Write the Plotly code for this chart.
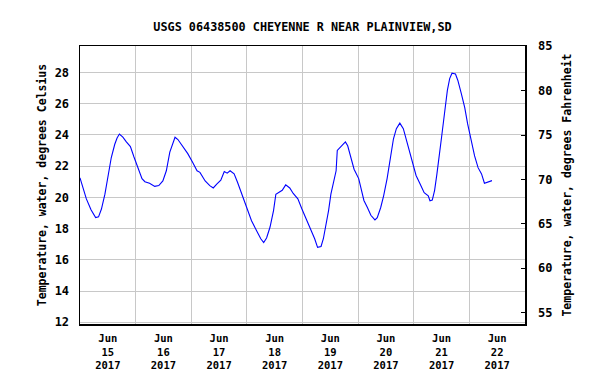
import plotly.graph_objects as go

title_text = "USGS 06438500 CHEYENNE R NEAR PLAINVIEW,SD"
left_title = "Temperature, water, degrees Celsius"
right_title = "Temperature, water, degrees Fahrenheit"

times = [
    "2017-06-15 00:00", "2017-06-15 01:15", "2017-06-15 02:45", "2017-06-15 04:45",
    "2017-06-15 06:45", "2017-06-15 08:00", "2017-06-15 09:15", "2017-06-15 10:45",
    "2017-06-15 12:00", "2017-06-15 13:30", "2017-06-15 15:00", "2017-06-15 16:00",
    "2017-06-15 17:00", "2017-06-15 18:30", "2017-06-15 20:00", "2017-06-15 21:45",
    "2017-06-15 23:15",
    "2017-06-16 01:00", "2017-06-16 02:45", "2017-06-16 04:00", "2017-06-16 06:00",
    "2017-06-16 08:15", "2017-06-16 10:00", "2017-06-16 11:45", "2017-06-16 13:15",
    "2017-06-16 14:45", "2017-06-16 16:00", "2017-06-16 17:00", "2017-06-16 18:15",
    "2017-06-16 20:30", "2017-06-16 22:30",
    "2017-06-17 00:45", "2017-06-17 02:30", "2017-06-17 03:45", "2017-06-17 06:00",
    "2017-06-17 08:00", "2017-06-17 09:30", "2017-06-17 11:00", "2017-06-17 12:45",
    "2017-06-17 14:15", "2017-06-17 15:30", "2017-06-17 16:45", "2017-06-17 18:30",
    "2017-06-17 20:00", "2017-06-17 21:45",
    "2017-06-18 00:00", "2017-06-18 02:00", "2017-06-18 04:15", "2017-06-18 06:00",
    "2017-06-18 07:15", "2017-06-18 08:30", "2017-06-18 10:00", "2017-06-18 11:30",
    "2017-06-18 12:30", "2017-06-18 13:30", "2017-06-18 15:15", "2017-06-18 16:45",
    "2017-06-18 18:30", "2017-06-18 20:00", "2017-06-18 22:00", "2017-06-18 23:45",
    "2017-06-19 01:45", "2017-06-19 03:45", "2017-06-19 05:15", "2017-06-19 06:30",
    "2017-06-19 08:00", "2017-06-19 09:00", "2017-06-19 10:15", "2017-06-19 11:15",
    "2017-06-19 12:15", "2017-06-19 13:15", "2017-06-19 14:30", "2017-06-19 15:00",
    "2017-06-19 16:15", "2017-06-19 17:45", "2017-06-19 18:30", "2017-06-19 19:30",
    "2017-06-19 20:45", "2017-06-19 22:15",
    "2017-06-20 00:15", "2017-06-20 01:30", "2017-06-20 02:30", "2017-06-20 04:00",
    "2017-06-20 05:30", "2017-06-20 07:15", "2017-06-20 08:15", "2017-06-20 09:45",
    "2017-06-20 11:00", "2017-06-20 12:30", "2017-06-20 13:45", "2017-06-20 15:15",
    "2017-06-20 16:30", "2017-06-20 17:30", "2017-06-20 18:00", "2017-06-20 19:30",
    "2017-06-20 21:15", "2017-06-20 23:15",
    "2017-06-21 01:00", "2017-06-21 02:45", "2017-06-21 04:30", "2017-06-21 06:15",
    "2017-06-21 07:00", "2017-06-21 08:00", "2017-06-21 09:00", "2017-06-21 10:00",
    "2017-06-21 11:00", "2017-06-21 12:00", "2017-06-21 13:15", "2017-06-21 14:30",
    "2017-06-21 15:30", "2017-06-21 16:30", "2017-06-21 18:00", "2017-06-21 19:00",
    "2017-06-21 20:30", "2017-06-21 22:00", "2017-06-21 23:15",
    "2017-06-22 00:45", "2017-06-22 02:15", "2017-06-22 03:45", "2017-06-22 05:15",
    "2017-06-22 06:30", "2017-06-22 07:30", "2017-06-22 09:45",
]

temps_c = [
    21.25, 20.65, 19.9, 19.2, 18.7, 18.75, 19.25, 20.2,
    21.2, 22.55, 23.4, 23.8, 24.05, 23.85, 23.55, 23.25,
    22.6,
    21.9, 21.2, 21.0, 20.9, 20.7, 20.75, 21.05, 21.7,
    22.9, 23.4, 23.85, 23.7, 23.25, 22.8,
    22.2, 21.7, 21.6, 21.05, 20.75, 20.6, 20.85, 21.1,
    21.65, 21.55, 21.7, 21.5, 20.95, 20.2,
    19.25, 18.5, 17.85, 17.35, 17.1, 17.4, 18.1, 19.15,
    20.2, 20.3, 20.45, 20.8, 20.6, 20.25, 19.9, 19.25,
    18.6, 17.9, 17.35, 16.8, 16.85, 17.35, 18.3, 19.15,
    20.2, 20.85, 21.7, 23.0, 23.2, 23.45, 23.55, 23.3,
    22.65, 21.8,
    21.2, 20.45, 19.8, 19.35, 18.85, 18.55, 18.7, 19.35,
    20.1, 21.2, 22.35, 23.75, 24.4, 24.7, 24.75, 24.4,
    23.4, 22.25,
    21.4, 20.85, 20.3, 20.1, 19.78, 19.82, 20.45, 21.5,
    22.55, 23.85, 25.35, 26.85, 27.6, 27.95, 27.9, 27.5,
    26.65, 25.75, 24.7,
    23.65, 22.65, 21.9, 21.5, 20.9, 20.95, 21.07,
]

x_range = ["2017-06-15 00:00", "2017-06-23 00:00"]
c_range = [11.89, 29.69]
f_range = [53.73, 85.02]

font_family = "DejaVu Sans Mono"

fig = go.Figure()
fig.add_trace(go.Scatter(
    x=times, y=temps_c, mode="lines",
    line=dict(color="#0000FF", width=1.1, shape="linear"),
    showlegend=False, hoverinfo="skip",
))
# invisible trace to activate the Fahrenheit axis
fig.add_trace(go.Scatter(
    x=[times[0]], y=[temps_c[0] * 1.8 + 32], yaxis="y2", mode="markers",
    marker=dict(opacity=0), showlegend=False, hoverinfo="skip",
))

fig.update_layout(
    width=597, height=375,
    margin=dict(l=80, r=72, t=46, b=51, autoexpand=False),
    paper_bgcolor="white", plot_bgcolor="white",
    font=dict(family=font_family, size=12, color="black", weight="bold"),
    title=dict(
        text=title_text, x=0.5, xref="paper", xanchor="center",
        y=1 - 26.7 / 375, yref="container", yanchor="middle",
        font=dict(family=font_family, size=11.8, color="black", weight="bold"),
    ),
    xaxis=dict(
        type="date", range=x_range, automargin=False,
        tick0="2017-06-15", dtick=86400000,
        ticklabelmode="period", tickformat="%b<br>%d<br>%Y",
        showgrid=True, gridcolor="#C8C8C8", gridwidth=1,
        showline=True, linecolor="black", linewidth=1.5, mirror=True,
        ticks="", ticklabelstandoff=4,
        tickfont=dict(size=10.5),
        zeroline=False,
    ),
    yaxis=dict(
        range=c_range, tick0=12, dtick=2, automargin=False,
        showgrid=True, gridcolor="#C8C8C8", gridwidth=1,
        showline=True, linecolor="black", linewidth=1.5, mirror=True,
        ticks="", ticklabelstandoff=7,
        title=dict(text=left_title, standoff=5,
                   font=dict(size=11.5)),
        zeroline=False,
    ),
    yaxis2=dict(
        range=f_range, tick0=55, dtick=5, overlaying="y", side="right",
        automargin=False,
        showgrid=False, zeroline=False,
        ticks="inside", ticklen=4, tickcolor="black", tickwidth=1,
        ticklabelstandoff=12,
        title=dict(text=right_title, standoff=11,
                   font=dict(size=11.5)),
    ),
)

fig.write_html(
    "out.html",
    config={"displayModeBar": False, "staticPlot": True},
    post_script="document.body.style.margin='0';document.body.style.padding='0';",
)
